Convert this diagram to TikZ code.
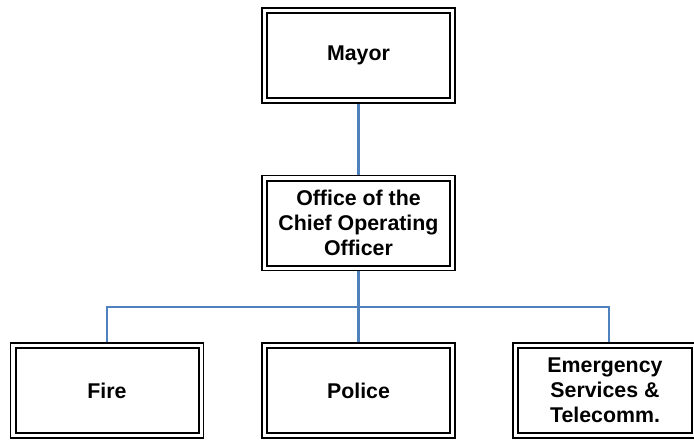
\documentclass[tikz,border=0pt]{standalone}
\usepackage{fontspec}
\setmainfont{Liberation Sans}
\definecolor{conn}{HTML}{4F81BD}
\tikzset{
  orgbox/.style={draw=black, line width=0.8pt, fill=white, inner sep=0pt,
    minimum width=144.75pt, minimum height=71.25pt, align=center,
    font=\bfseries\fontsize{16}{18.75}\selectfont,
    path picture={\draw[line width=1.5pt]
      ([xshift=3.75pt,yshift=-3.75pt]path picture bounding box.north west) rectangle
      ([xshift=-3.75pt,yshift=3.75pt]path picture bounding box.south east);}},
  link/.style={draw=conn, line width=1.6pt}
}
\begin{document}
\begin{tikzpicture}[x=0.75pt,y=-0.75pt]
\useasboundingbox (0,0) rectangle (694,440);
\begin{scope}
\clip (0,0) rectangle (694,440);
\coordinate (bus) at (358.5,307);
\node[orgbox] (mayor) at (358.5,55.5) {Mayor};
\node[orgbox] (coo) at (358.5,223) {Office of the\\Chief Operating\\Officer};
\node[orgbox] (fire) at (107,390.5) {Fire};
\node[orgbox] (police) at (358.5,390.5) {Police};
\node[orgbox, minimum width=138pt] (ems) at (605,390.5) {Emergency\\Services \&\\Telecomm.};
\draw[link] (mayor.south) -- (coo.north);
\draw[link] (coo.south) -- (bus);
\draw[link] (fire.north) |- (bus) -| ([xshift=3pt]ems.north);
\draw[link] (bus) -- (police.north);
\end{scope}
\end{tikzpicture}
\end{document}
